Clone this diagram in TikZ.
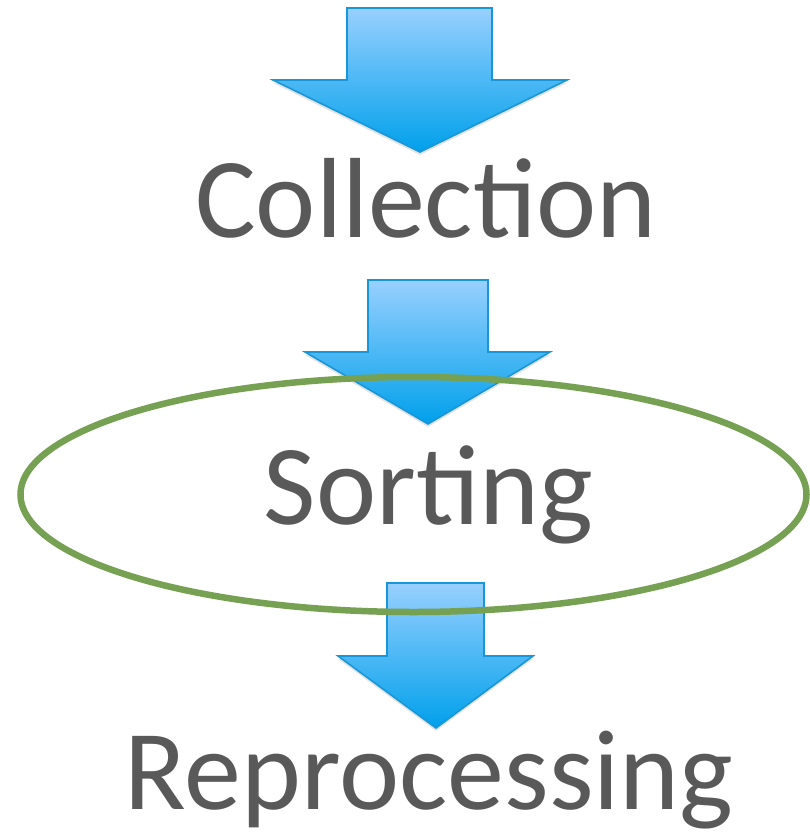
\documentclass[tikz,border=0pt]{standalone}
\usepackage{fontspec}
\setmainfont{Carlito}
\usetikzlibrary{shadows}
\definecolor{txtgray}{RGB}{89,89,89}
\definecolor{ringgreen}{RGB}{118,160,82}
\definecolor{arrtop}{RGB}{152,208,255}
\definecolor{arrbot}{RGB}{0,160,235}
\definecolor{arredge}{RGB}{25,150,215}
\tikzset{
  bigarrow/.style={draw=arredge, line width=1.6pt, line join=miter,
    top color=arrtop, bottom color=arrbot,
    drop shadow={opacity=0.22, shadow xshift=0pt, shadow yshift=-3pt}},
  label/.style={text=txtgray, font=\fontsize{114pt}{120pt}\selectfont, anchor=base, inner sep=0pt},
  ring/.style={draw=ringgreen, line width=6.5pt}
}
\begin{document}
\begin{tikzpicture}[x=1pt,y=-1pt]
\useasboundingbox (0,0) rectangle (810,833);
% arrow 1
\path[bigarrow] (347,8) -- (492,8) -- (492,80) -- (567,80) -- (420,152) -- (273,80) -- (347,80) -- cycle;
% arrow 2
\path[bigarrow] (368,280) -- (488,280) -- (488,352) -- (550,352) -- (428,424) -- (305,352) -- (368,352) -- cycle;
% arrow 3
\path[bigarrow] (387,583) -- (484,583) -- (484,656) -- (533,656) -- (436,728) -- (338,656) -- (387,656) -- cycle;
% ring
\draw[ring] (413.5,494.5) ellipse [x radius=393, y radius=117.5];
% labels
\node[label] (collection) at (426,237) {Collection};
\node[label] (sorting) at (428.5,524) {Sorting};
\node[label] (reprocessing) at (429,809) {Reprocessing};
\end{tikzpicture}
\end{document}
